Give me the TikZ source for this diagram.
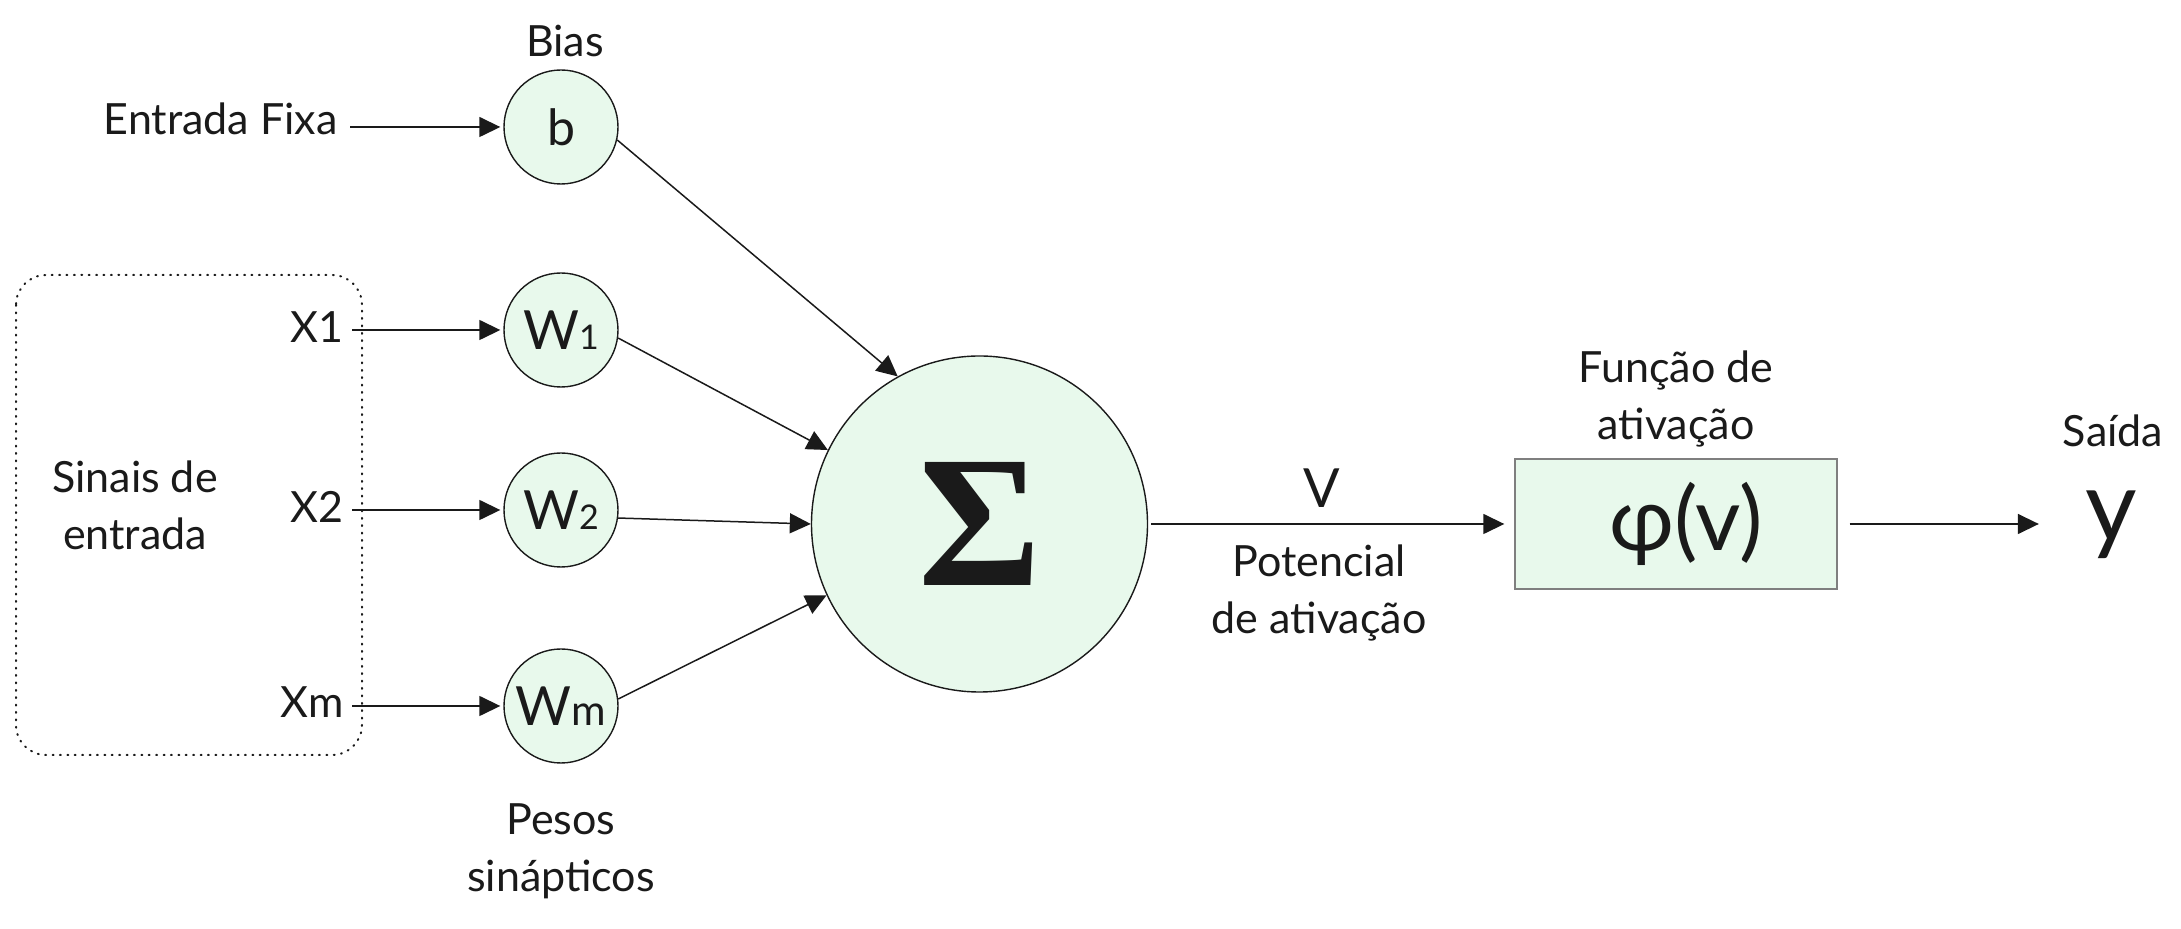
\documentclass[tikz,border=0pt]{standalone}
\usepackage{fontspec}
\setmainfont{Lato}
\newfontfamily\sigmafont{Liberation Serif}
\usetikzlibrary{arrows.meta}
\definecolor{ink}{HTML}{1A1A1A}
\definecolor{mint}{HTML}{E8F9EC}
\definecolor{boxedge}{HTML}{7F7F7F}

\begin{document}
\begin{tikzpicture}[x=0.5pt,y=-0.5pt,
  every node/.style={text=ink},
  lbl/.style={font=\fontsize{21.5}{28.5}\selectfont, align=center},
  weight/.style={circle, draw=ink, fill=mint, line width=0.7pt,
    minimum size=57pt, inner sep=0pt, font=\fontsize{27}{30}\selectfont},
  arr/.style={draw=ink, line width=0.75pt,
    -{Triangle[length=10.5pt,width=10pt]}},
]
\useasboundingbox (0,0) rectangle (2181,929);

% input group
\draw[ink, line width=1pt, dash pattern=on 0.5pt off 3.2pt, line cap=round,
  rounded corners=15pt] (16,275) rectangle (362,755);
\node[lbl, anchor=base] (sinais) at (135,550) {Sinais de\\entrada};

% weights
\node[weight, font=\fontsize{25}{28}\selectfont] (b) at (561,127) {b};
\node[weight] (w1) at (561,330) {W{\fontsize{17}{17}\selectfont 1}};
\node[weight] (w2) at (561,510) {W{\fontsize{17}{17}\selectfont 2}};
\node[weight] (wm) at (561,706) {W{\fontsize{21}{21}\selectfont m}};

\node[lbl, anchor=base] (bias) at (565,57) {Bias};
\node[lbl, anchor=base] (pesos) at (561,892) {Pesos\\sinápticos};

% inputs
\node[lbl, anchor=base east, inner sep=6pt] (fixa) at (350,135) {Entrada Fixa};
\node[lbl, anchor=base east, inner sep=4pt] (x1) at (352,343) {X1};
\node[lbl, anchor=base east, inner sep=4pt] (x2) at (352,523) {X2};
\node[lbl, anchor=base east, inner sep=4pt] (xm) at (352,718) {Xm};

\draw[arr, shorten >=1.5pt] (fixa.east |- b.west) -- (b.west);
\draw[arr, shorten >=1.5pt] (x1.east |- w1.west) -- (w1.west);
\draw[arr, shorten >=1.5pt] (x2.east |- w2.west) -- (w2.west);
\draw[arr, shorten >=1.5pt] (xm.east |- wm.west) -- (wm.west);

% summing junction
\node[circle, draw=ink, fill=mint, line width=0.7pt, minimum size=168pt,
  inner sep=0pt, font=\sigmafont\bfseries\fontsize{94}{94}\selectfont]
  (sigma) at (979.5,524) {Σ};

\draw[arr] (b.-13) -- (sigma.119);
\draw[arr] (w1.-8) -- (sigma.154);
\draw[arr] (w2.-8) -- (sigma.180);
\draw[arr] (wm.7) -- (sigma.205);

% activation
\node[draw=boxedge, fill=mint, line width=0.7pt, minimum width=161pt,
  minimum height=65pt, inner sep=0pt, font=\fontsize{44}{44}\selectfont]
  (act) at (1676,524) {\hspace*{10pt}φ(v)};
\node[lbl, anchor=base] (funcao) at (1676,440) {Função de\\ativação};

\draw[arr, shorten <=1.5pt, shorten >=5pt] (sigma.east) -- (act.west);
\node[font=\fontsize{27}{30}\selectfont, anchor=base] (v) at (1322,508) {V};
\node[lbl, anchor=base] (potencial) at (1319,634) {Potencial\\de ativação};

% output
\node[font=\fontsize{50}{50}\selectfont, inner sep=0pt] (out) at (2111,525) {y};
\node[lbl, anchor=base] (saida) at (2113,447) {Saída};
\draw[arr, shorten <=6pt, shorten >=23pt] (act.east) -- (act.east -| out.west);
\end{tikzpicture}
\end{document}
